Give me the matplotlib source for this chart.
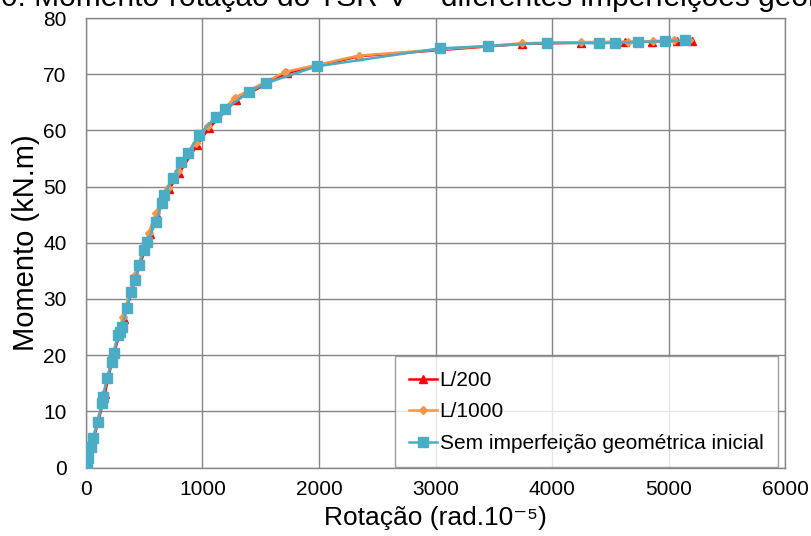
import matplotlib
matplotlib.use("Agg")
import matplotlib.pyplot as plt

plt.rcParams['font.family'] = ['Liberation Sans', 'DejaVu Sans']

# Momento-rotação curves (rotation in rad.10^-5, moment in kN.m)
rot_l200 = [0, 20, 50, 110, 160, 230, 325, 430, 550, 610, 712, 800, 953, 1056,
            1288, 1725, 2345, 3745, 4250, 4625, 4860, 5070, 5200]
mom_l200 = [0, 1.5, 4.0, 8.5, 13.0, 19.5, 26.5, 34.0, 41.5, 45.0, 49.5, 52.4, 57.4,
            60.4, 65.4, 70.2, 73.2, 75.4, 75.6, 75.7, 75.8, 75.9, 75.9]

rot_l1000 = [0, 15, 45, 100, 150, 225, 315, 420, 540, 600, 700, 790, 940, 1045,
             1275, 1710, 2340, 3740, 4245, 4650, 4870, 5050, 5180]
mom_l1000 = [0, 1.4, 4.0, 8.5, 13.0, 19.8, 26.8, 34.3, 41.8, 45.3, 49.8, 52.8, 57.8,
             60.8, 65.8, 70.4, 73.3, 75.5, 75.7, 75.8, 75.9, 76.0, 76.0]

rot_sem = [0, 5, 17, 43, 60, 103, 137, 146, 180, 223, 240, 275, 292, 309, 352, 386,
           421, 455, 498, 524, 601, 652, 670, 747, 815, 876, 970, 1116, 1193, 1400,
           1545, 1983, 3039, 3450, 3955, 4405, 4540, 4740, 4970, 5140]
mom_sem = [0, 0.4, 1.7, 3.7, 5.2, 8.1, 11.5, 12.6, 15.9, 18.8, 20.4, 23.6, 24.1, 25.0,
           28.4, 31.2, 33.4, 36.0, 38.7, 40.1, 43.7, 47.0, 48.5, 51.5, 54.4, 56.0,
           59.2, 62.4, 63.8, 66.8, 68.4, 71.4, 74.6, 75.0, 75.6, 75.5, 75.6, 75.7,
           75.9, 76.0]

x_ticks = [0, 1000, 2000, 3000, 4000, 5000, 6000]
y_ticks = [0, 10, 20, 30, 40, 50, 60, 70, 80]

fig = plt.figure(figsize=(8.12, 5.36), dpi=100)
ax = fig.add_axes([86 / 812, 1 - 467.5 / 536, 699 / 812, 449.5 / 536])

ax.plot(rot_l200, mom_l200, color='#FF0000', lw=1.8, marker='^', ms=6,
        label='L/200', zorder=3)
ax.plot(rot_l1000, mom_l1000, color='#F79646', lw=1.8, marker='D', ms=4.5,
        label='L/1000', zorder=4)
ax.plot(rot_sem, mom_sem, color='#4BACC6', lw=1.8, marker='s', ms=6.5,
        label='Sem imperfeição geométrica inicial', zorder=5)

ax.set_xlim(0, 6000)
ax.set_ylim(0, 80)
ax.set_xticks(x_ticks)
ax.set_yticks(y_ticks)
ax.tick_params(axis='x', length=0, pad=9, labelsize=15)
ax.tick_params(axis='y', length=0, pad=14, labelsize=15)
ax.grid(True, color='#868686', lw=1)
ax.set_axisbelow(True)
for sp in ax.spines.values():
    sp.set_color('#868686')
    sp.set_linewidth(1)

ax.set_xlabel('Rotação (rad.10⁻⁵)', fontsize=19, labelpad=5)
ax.set_ylabel('Momento (kN.m)', fontsize=21, labelpad=2)

leg = ax.legend(loc='lower right', fontsize=15, handlelength=1.3,
                handletextpad=0.15, borderaxespad=0.0, frameon=True,
                fancybox=False, edgecolor='#868686', labelspacing=0.6,
                borderpad=0.7, bbox_to_anchor=(0.990, 0.0))
leg.get_frame().set_linewidth(1)

fig.text(-0.148, 1 - 6 / 536,
         'Gráfico 10: Momento-rotação do TSR-V – diferentes imperfeições geométricas',
         fontsize=21.5, ha='left', va='baseline')

fig.savefig('out.png', dpi=100)
